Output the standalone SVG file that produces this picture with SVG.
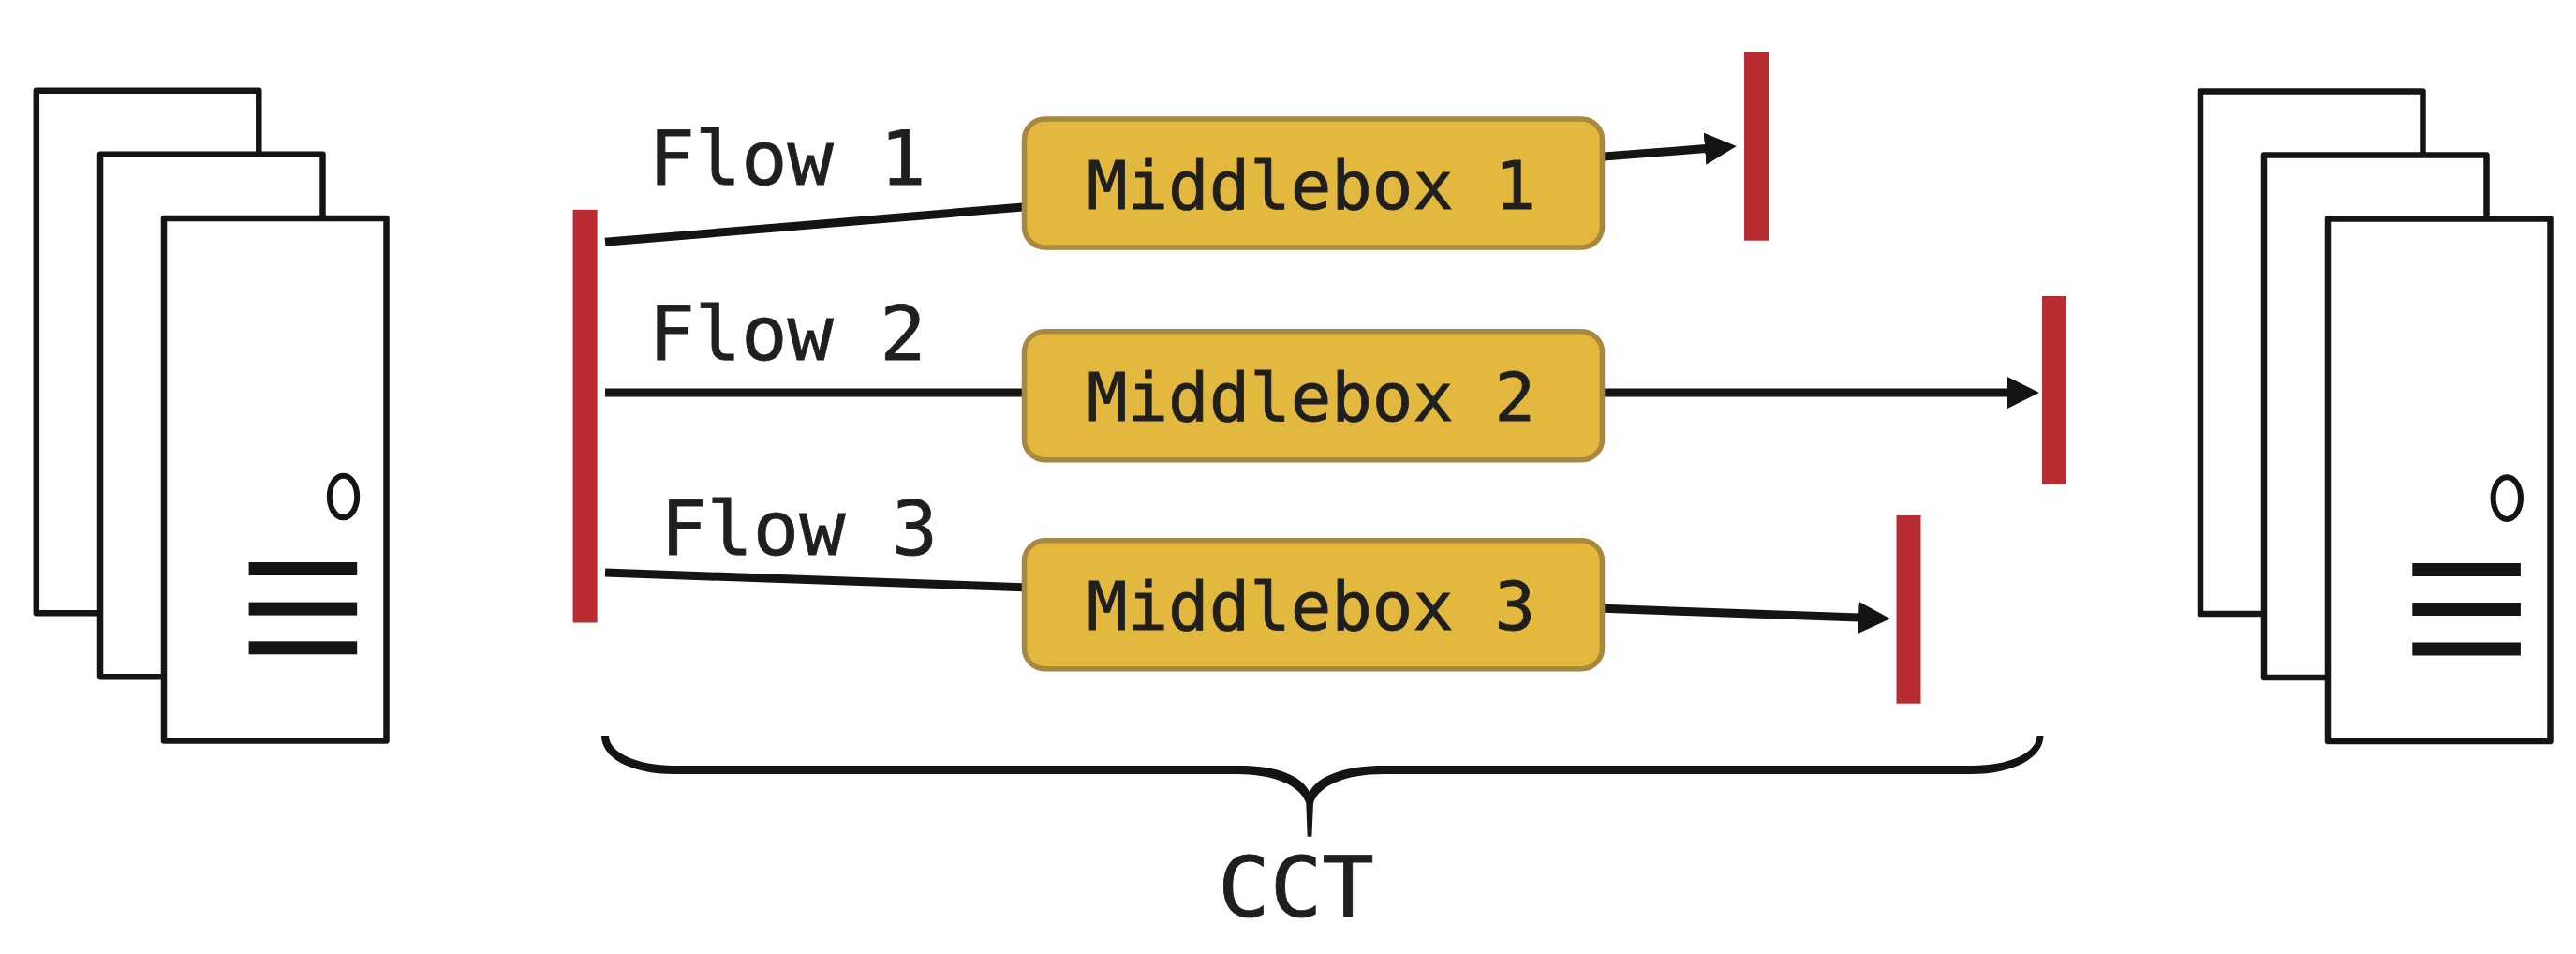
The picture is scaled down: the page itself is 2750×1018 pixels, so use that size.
<svg xmlns="http://www.w3.org/2000/svg" width="2750" height="1018" viewBox="0 0 2750 1018">
<style>
.s{fill:#fff;stroke:#141412;stroke-width:6.5;stroke-linejoin:round}
.b{fill:#141412}
.led{fill:#fff;stroke:#141412;stroke-width:6}
.r{fill:#b82c31}
.mb{fill:#e3b83e;stroke:#a8873e;stroke-width:5.5}
.t{font-family:"DejaVu Sans Mono",monospace;fill:#1f1f1f;stroke:#1f1f1f;stroke-width:0.8}
.mt{font-size:70.5px}
.ft{font-size:80px}
.c{fill:none;stroke:#141412;stroke-width:9}
</style>
<defs>
<marker id="head" markerUnits="userSpaceOnUse" markerWidth="36" markerHeight="36" refX="1" refY="18" orient="auto"><polygon points="0,1 34,18 0,35" fill="#141412"/></marker>
</defs>
<rect width="2750" height="1018" fill="#fff"/>
<g id="connectors">
<line class="c" x1="646" y1="258.3" x2="1092" y2="221"/>
<line class="c" x1="646" y1="419" x2="1092" y2="419"/>
<line class="c" x1="646" y1="611" x2="1092" y2="626.7"/>
<line class="c" x1="1712" y1="167" x2="1821" y2="158.6" marker-end="url(#head)"/>
<line class="c" x1="1712" y1="419" x2="2144" y2="419" marker-end="url(#head)"/>
<line class="c" x1="1712" y1="649.3" x2="1985" y2="659.1" marker-end="url(#head)"/>
</g>
<g id="server-left">
<rect class="s" x="38.8" y="96.8" width="237.5" height="557.5"/>
<rect class="s" x="107" y="164.7" width="237.5" height="557.5"/>
<rect class="s" x="175" y="233" width="237.5" height="557.5"/>
<ellipse class="led" cx="366.5" cy="530" rx="14.7" ry="22.3"/>
<rect class="b" x="265.6" y="600" width="115.6" height="14"/>
<rect class="b" x="265.6" y="642.6" width="115.6" height="14"/>
<rect class="b" x="265.6" y="684.3" width="115.6" height="14"/>
</g>
<g id="server-right">
<rect class="s" x="2349" y="97.5" width="237.5" height="557.5"/>
<rect class="s" x="2417" y="165.4" width="237.5" height="557.5"/>
<rect class="s" x="2485" y="233.4" width="237.5" height="557.5"/>
<ellipse class="led" cx="2676.3" cy="531.6" rx="14.7" ry="22.3"/>
<rect class="b" x="2575.3" y="601" width="115.6" height="14"/>
<rect class="b" x="2575.3" y="643" width="115.6" height="14"/>
<rect class="b" x="2575.3" y="685.5" width="115.6" height="14"/>
</g>
<g id="source-bar"><rect class="r" x="611.6" y="223.8" width="26" height="440.7"/></g>
<g id="sink-1"><rect class="r" x="1862" y="55.7" width="26" height="201"/></g>
<g id="sink-2"><rect class="r" x="2180" y="316" width="26" height="200.7"/></g>
<g id="sink-3"><rect class="r" x="2024.5" y="550" width="26" height="200.7"/></g>
<g id="middlebox-1"><rect class="mb" x="1093.5" y="127" width="617" height="137" rx="22"/><text class="t mt" x="1160" y="222.7" textLength="479" lengthAdjust="spacingAndGlyphs">Middlebox 1</text></g>
<g id="middlebox-2"><rect class="mb" x="1093.5" y="353.7" width="617" height="137" rx="22"/><text class="t mt" x="1160" y="448.7" textLength="479" lengthAdjust="spacingAndGlyphs">Middlebox 2</text></g>
<g id="middlebox-3"><rect class="mb" x="1093.5" y="576.7" width="617" height="137" rx="22"/><text class="t mt" x="1160" y="671.7" textLength="479" lengthAdjust="spacingAndGlyphs">Middlebox 3</text></g>
<g id="flow-1"><text class="t ft" x="692.5" y="197.3" textLength="296" lengthAdjust="spacingAndGlyphs">Flow 1</text></g>
<g id="flow-2"><text class="t ft" x="692.5" y="384" textLength="296" lengthAdjust="spacingAndGlyphs">Flow 2</text></g>
<g id="flow-3"><text class="t ft" x="705.2" y="591.7" textLength="296" lengthAdjust="spacingAndGlyphs">Flow 3</text></g>
<g id="brace-cct">
<path class="b" d="M642,785 L650,785 C650,803 680,817 720,817 L1323,817 C1362,817 1389,827 1398,845 C1407,827 1438,817 1477,817 L2105,817 C2146,817 2174.5,803 2174.5,785 L2181.5,785 C2181.5,808 2150,826 2105,826 L1477,826 C1437,826 1408,838 1402,857 L1400.4,892.7 L1395.7,892.7 L1394.3,857 C1388,838 1360,826 1320,826 L720,826 C672,826 642,808 642,785 Z"/>
<text class="t" x="1300" y="977.7" font-size="89.5" textLength="167" lengthAdjust="spacingAndGlyphs">CCT</text>
</g>
</svg>
